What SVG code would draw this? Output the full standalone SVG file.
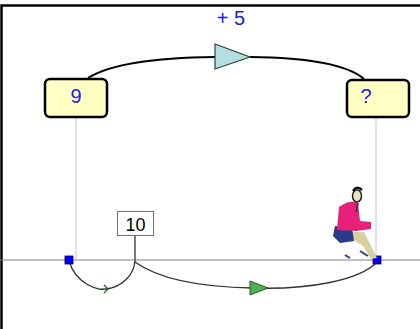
<svg xmlns="http://www.w3.org/2000/svg" width="420" height="329" viewBox="0 0 420 329">
  <style>
    .frame { fill: none; stroke: #000; stroke-width: 2.5; }
    .box { fill: #ffffc4; stroke: #000; stroke-width: 2.5; }
    .num { font-family: "Liberation Sans", Arial, sans-serif; font-size: 20px; fill: #2020e0; text-anchor: middle; }
    .guide { stroke: #c8c8c8; stroke-width: 1; fill: none; }
    .axis { stroke: #808080; stroke-width: 1.2; fill: none; }
    .arc { stroke: #000; stroke-width: 2; fill: none; }
    .thin { stroke: #333; stroke-width: 1.3; fill: none; }
    .pt { fill: #0000ff; stroke: #000040; stroke-width: 0.8; }
    .lbl { font-family: "Liberation Sans", Arial, sans-serif; font-size: 18px; fill: #000; text-anchor: middle; }
  </style>

  <rect x="0" y="0" width="420" height="329" fill="#fff"/>
  <path class="frame" d="M1.5 329 V5.5 H420"/>

  <!-- guide lines and number line -->
  <g id="guides">
    <line class="guide" x1="76" y1="117" x2="76" y2="260"/>
    <line class="guide" x1="376" y1="117" x2="376" y2="260"/>
    <line class="axis" x1="0" y1="260" x2="420" y2="260"/>
  </g>

  <g id="connectors">
    <!-- top arc with arrow -->
    <path class="arc" d="M88 78 Q120 58 215 57 M250 57 Q340 58 364 79"/>
    <polygon points="215,44 250,57 215,69" fill="#b4dfe0" stroke="#304040" stroke-width="1.2"/>
    <text class="num" x="231" y="25" font-size="14">+ 5</text>
    <!-- small hop -->
    <path class="thin" d="M69 261 C76 285 100 291 106 289 C122 287 134 275 135 261"/>
    <path d="M104 285 L108 289 L104 293 M101 289 H108" stroke="#206020" stroke-width="1.2" fill="none"/>
    <!-- long hop -->
    <path class="thin" d="M135 262 C160 280 200 287 252 288 C310 290 360 280 377 262"/>
    <polygon points="250,281 268,288 250,295" fill="#50b050" stroke="#206020" stroke-width="1"/>
    <!-- label stem -->
    <line class="thin" x1="135" y1="236" x2="135" y2="261" stroke="#444"/>
  </g>

  <g id="node-9">
    <rect class="box" x="45" y="79" width="62" height="38" rx="5"/>
    <text class="num" x="76" y="103">9</text>
  </g>

  <g id="node-q">
    <rect class="box" x="347" y="80" width="62" height="37" rx="5"/>
    <text class="num" x="366" y="103">?</text>
  </g>

  <g id="label-10">
    <rect x="117.5" y="211.5" width="36" height="24" fill="#fff" stroke="#707070" stroke-width="1"/>
    <text class="lbl" x="135.5" y="231">10</text>
  </g>

  <!-- points on the number line -->
  <rect class="pt" x="65" y="256" width="8" height="8"/>
  <rect class="pt" x="373" y="256" width="8" height="8"/>

  <!-- walker figure -->
  <g id="walker">
    <path d="M349 232 L364 232 L372 248 L377 258 L371 259 L363 246 L355 241 Z" fill="#d8d0a0"/>
    <path d="M335 226 L352 228 L354 241 L340 243 L333 236 Z" fill="#2a3a8a"/>
    <path d="M339 207 Q350 199 358 203 L360 221 L371 222 L371 229 L356 231 L337 230 Z" fill="#e8207a"/>
    <ellipse cx="357" cy="196" rx="4.5" ry="6" fill="#f0e0c0" stroke="#222" stroke-width="1.5"/>
    <path d="M353 191 Q357 185 362 190" stroke="#111" stroke-width="2.5" fill="none"/>
    <path d="M358 203 L356 212" stroke="#333" stroke-width="1.5"/>
    <path d="M360 251 L368 256 M345 255 L350 258" stroke="#2a3a8a" stroke-width="2"/>
  </g>
</svg>
